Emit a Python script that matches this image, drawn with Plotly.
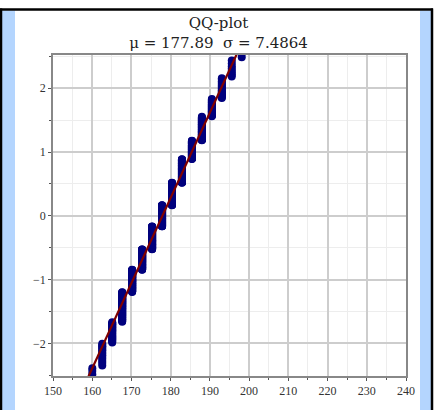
import plotly.graph_objects as go
from statistics import NormalDist

# Data: heights (cm, inch-rounded) and number of observations at each height
heights = [154.94, 157.48, 160.02, 162.56, 165.10, 167.64, 170.18, 172.72, 175.26,
           177.80, 180.34, 182.88, 185.42, 187.96, 190.50, 193.04, 195.58, 198.12]
counts = [1, 3, 5, 14, 25, 68, 83, 101, 134, 132, 132, 115, 68, 59, 27, 18, 8, 7]
mu = 177.89
sigma = 7.4864
x_ticks = [150, 160, 170, 180, 190, 200, 210, 220, 230, 240]
y_ticks = [-2, -1, 0, 1, 2]

# QQ points: sorted sample vs theoretical normal quantiles
sample = []
for h, c in zip(heights, counts):
    sample.extend([h] * c)
n = len(sample)
nd = NormalDist()
theo = [nd.inv_cdf((i + 0.5) / n) for i in range(n)]

z_line = [-2.9, 2.9]
x_line = [mu + sigma * z for z in z_line]

W, H = 437, 410
ML, MR, MT, MB = 53, 31, 55, 31
PW, PH = W - ML - MR, H - MT - MB


def px(x):
    return (x - ML) / PW


def py(y):
    return (H - MB - y) / PH


fig = go.Figure()
fig.add_trace(go.Scatter(x=sample, y=theo, mode="markers",
                         marker=dict(color="#00007f", size=8, line=dict(width=0)),
                         showlegend=False, hoverinfo="skip"))
fig.add_trace(go.Scatter(x=x_line, y=z_line, mode="lines",
                         line=dict(color="#7f0000", width=2.2),
                         showlegend=False, hoverinfo="skip"))

shapes = [
    dict(type="rect", xref="paper", yref="paper", x0=px(2), x1=px(15), y0=py(10), y1=py(H + 5),
         fillcolor="#b4d5fe", line=dict(width=0), layer="below"),
    dict(type="rect", xref="paper", yref="paper", x0=px(420), x1=px(431), y0=py(10), y1=py(H + 5),
         fillcolor="#b4d5fe", line=dict(width=0), layer="below"),
    dict(type="line", xref="paper", yref="paper", x0=px(-2), x1=px(433), y0=py(9), y1=py(9),
         line=dict(color="black", width=2.5)),
    dict(type="line", xref="paper", yref="paper", x0=px(1), x1=px(1), y0=py(8), y1=py(H + 5),
         line=dict(color="black", width=2.5)),
    dict(type="line", xref="paper", yref="paper", x0=px(432), x1=px(432), y0=py(8), y1=py(H + 5),
         line=dict(color="black", width=2.5)),
]

serif = "Liberation Serif, Times New Roman, serif"
fig.update_layout(
    width=W, height=H,
    margin=dict(l=ML, r=MR, t=MT, b=MB, pad=0),
    paper_bgcolor="white", plot_bgcolor="white",
    title=dict(text="QQ-plot<br>μ = 177.89\u00a0\u00a0σ = 7.4864",
               x=0.5, xref="container", xanchor="center",
               y=1 - 28 / H, yref="container", yanchor="top",
               font=dict(family="DejaVu Serif, serif", size=15, color="#222")),
    shapes=shapes,
    xaxis=dict(range=[150, 240], tickvals=x_ticks, showgrid=True, gridcolor="#cdcdcd", gridwidth=1.5,
               minor=dict(dtick=5, showgrid=True, gridcolor="#ededed", gridwidth=1, ticks="outside",
                          ticklen=2, tickcolor="#555"),
               ticks="outside", ticklen=3, tickcolor="#555",
               showline=True, linecolor="#888", linewidth=1.5, mirror=True, zeroline=False,
               tickfont=dict(family=serif, size=12, color="#333")),
    yaxis=dict(range=[-2.51, 2.52], tickvals=y_ticks, showgrid=True, gridcolor="#cdcdcd", gridwidth=1.5,
               minor=dict(dtick=0.5, showgrid=True, gridcolor="#ededed", gridwidth=1, ticks="outside",
                          ticklen=2, tickcolor="#555"),
               ticks="outside", ticklen=3, tickcolor="#555",
               showline=True, linecolor="#888", linewidth=1.5, mirror=True, zeroline=False,
               tickfont=dict(family=serif, size=12, color="#333")),
)

fig.write_html("out.html")
